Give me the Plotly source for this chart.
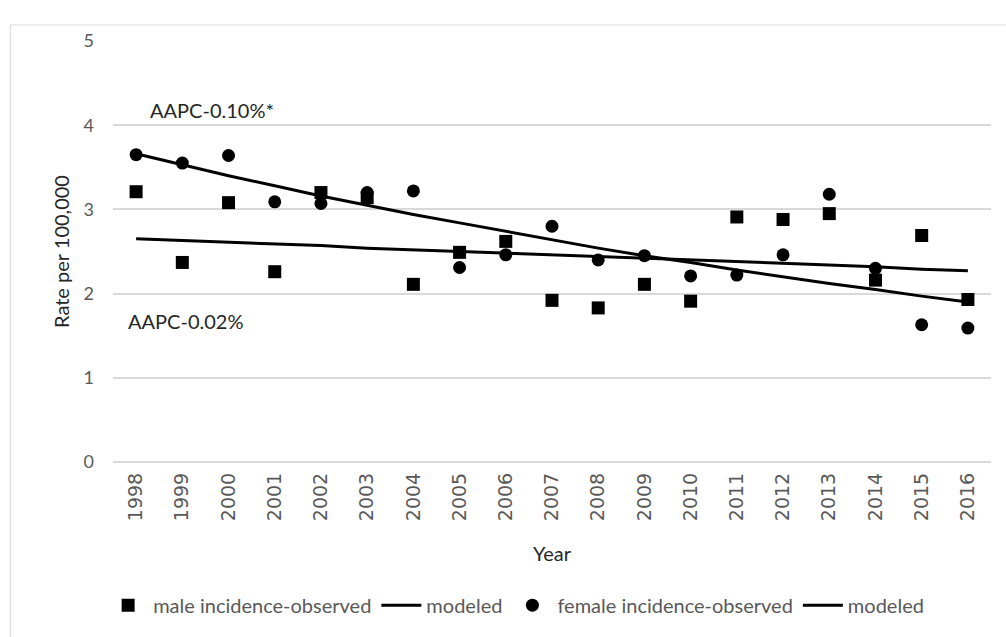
import plotly.graph_objects as go

years = [str(y) for y in range(1998, 2017)]

male_observed = [3.21, 2.37, 3.08, 2.26, 3.20, 3.14, 2.11, 2.49, 2.62, 1.92,
                 1.83, 2.11, 1.91, 2.91, 2.88, 2.95, 2.16, 2.69, 1.93]
male_modeled = [2.65, 2.63, 2.61, 2.59, 2.57, 2.54, 2.52, 2.50, 2.48, 2.46,
                2.44, 2.42, 2.40, 2.38, 2.36, 2.34, 2.32, 2.29, 2.27]

female_observed = [3.65, 3.55, 3.64, 3.09, 3.07, 3.20, 3.22, 2.31, 2.46, 2.80,
                   2.40, 2.45, 2.21, 2.22, 2.46, 3.18, 2.30, 1.63, 1.59]
female_modeled = [3.66, 3.53, 3.40, 3.28, 3.16, 3.05, 2.94, 2.84, 2.74, 2.64,
                  2.54, 2.45, 2.37, 2.28, 2.20, 2.12, 2.05, 1.97, 1.90]

y_ticks = [0, 1, 2, 3, 4, 5]

FONT = "Lato"
YEAR_FONT = "DejaVu Sans"
TICK = "#595959"
TEXT = "#262626"

fig = go.Figure()
fig.add_trace(go.Scatter(
    x=years, y=male_observed, mode="markers", name="male incidence-observed",
    marker=dict(symbol="square", size=13, color="black"),
))
fig.add_trace(go.Scatter(
    x=years, y=male_modeled, mode="lines", name="modeled",
    line=dict(color="black", width=3),
))
fig.add_trace(go.Scatter(
    x=years, y=female_observed, mode="markers", name="female incidence-observed",
    marker=dict(symbol="circle", size=13, color="black"),
))
fig.add_trace(go.Scatter(
    x=years, y=female_modeled, mode="lines", name="modeled ",
    line=dict(color="black", width=3),
))

fig.add_annotation(text="AAPC-0.10%*", xref="paper", yref="y", x=0.113, y=4.18,
                   xanchor="center", showarrow=False,
                   font=dict(family=FONT, size=20, color=TEXT))
fig.add_annotation(text="AAPC-0.02%", xref="paper", yref="y", x=0.083, y=1.675,
                   xanchor="center", showarrow=False,
                   font=dict(family=FONT, size=20, color=TEXT))

# chart-area frame
fig.add_shape(type="rect", xref="paper", yref="paper",
              x0=-0.117, x1=1.2, y0=-0.6, y1=1.038,
              line=dict(color="#d9d9d9", width=1), layer="below")

fig.update_layout(
    width=1006, height=637,
    margin=dict(l=113, r=15, t=41, b=175),
    paper_bgcolor="white", plot_bgcolor="white",
    font=dict(family=FONT, size=18, color=TICK),
    showlegend=True,
    legend=dict(orientation="h", x=0.462, xanchor="center", y=-0.34, yanchor="middle",
                font=dict(family=FONT, size=20, color=TICK), traceorder="normal",
                itemwidth=40),
)
fig.update_xaxes(
    type="category", range=[-0.5, 18.5], tickangle=-90,
    showgrid=False, showline=False, ticks="", ticklabelstandoff=6,
    tickfont=dict(family=YEAR_FONT, size=19, color=TICK),
    title=dict(text="Year", font=dict(family=FONT, size=20, color=TEXT), standoff=26),
)
fig.update_yaxes(
    range=[0, 5], tickvals=y_ticks, showgrid=True, gridcolor="#d9d9d9", gridwidth=1.5,
    zeroline=True, zerolinecolor="#d9d9d9", zerolinewidth=1.5, showline=False,
    ticks="", ticklen=0, ticklabelstandoff=18,
    tickfont=dict(family=FONT, size=18, color=TICK),
    title=dict(text="Rate per 100,000", font=dict(family=FONT, size=20, color=TEXT), standoff=8),
)

fig.write_html("out.html")
